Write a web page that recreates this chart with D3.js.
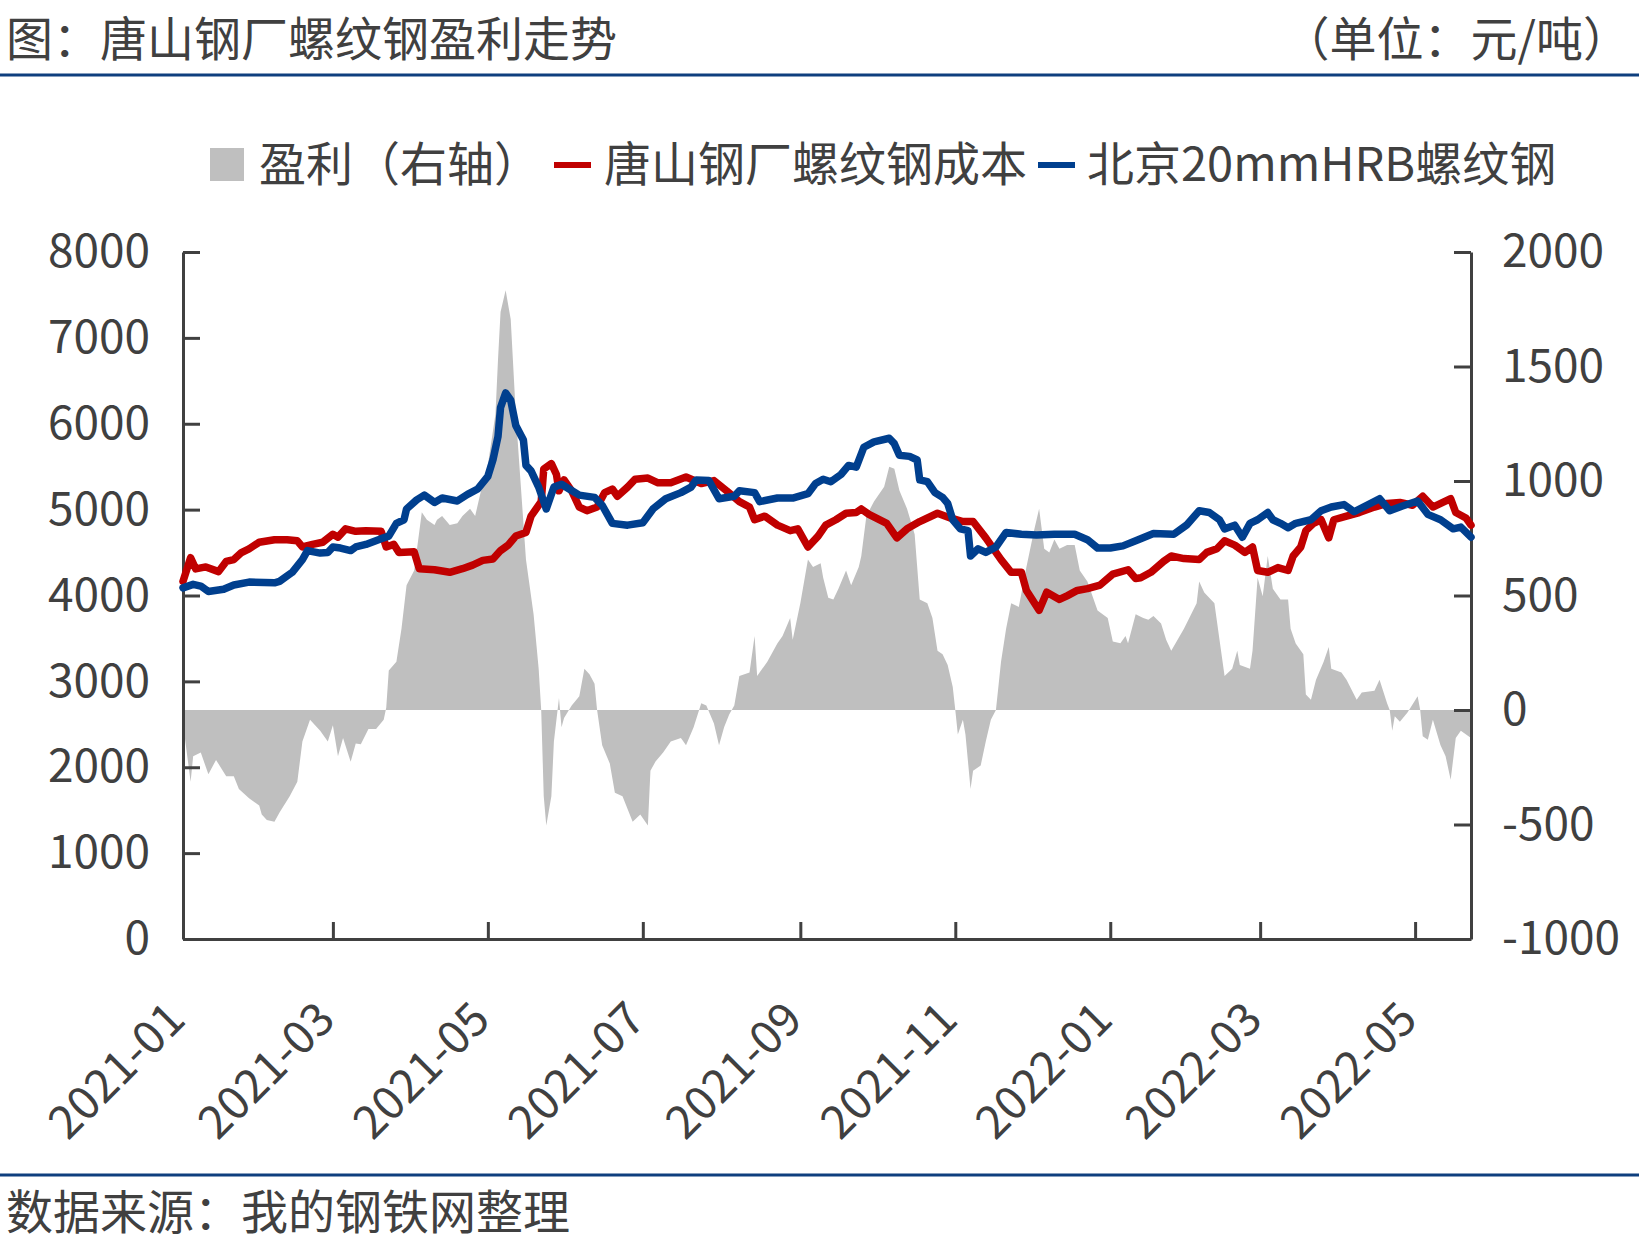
<!DOCTYPE html>
<html>
<head>
<meta charset="utf-8">
<title>唐山钢厂螺纹钢盈利走势</title>
<script src="https://cdn.jsdelivr.net/npm/d3@7"></script>
<style>
    html, body { margin: 0; padding: 0; background: #fff; }
    svg text { font-family: "Noto Sans CJK SC", "Noto Sans", sans-serif; }
</style>
</head>
<body>
<svg id="chart" width="1639" height="1251"></svg>
<script>
// 唐山钢厂螺纹钢成本 (left axis)
var costDates = ["2021-01-01","2021-01-04","2021-01-06","2021-01-10","2021-01-15","2021-01-18","2021-01-21","2021-01-24","2021-01-27","2021-01-31",
    "2021-02-06","2021-02-11","2021-02-15","2021-02-17","2021-02-21","2021-02-25","2021-03-01","2021-03-03","2021-03-06","2021-03-10",
    "2021-03-14","2021-03-20","2021-03-22","2021-03-25","2021-03-27","2021-04-02","2021-04-04","2021-04-10","2021-04-16","2021-04-21",
    "2021-04-25","2021-04-29","2021-05-03","2021-05-06","2021-05-09","2021-05-12","2021-05-16","2021-05-18","2021-05-22","2021-05-23",
    "2021-05-26","2021-05-28","2021-05-29","2021-05-31","2021-06-03","2021-06-06","2021-06-09","2021-06-13","2021-06-16","2021-06-19",
    "2021-06-21","2021-06-25","2021-06-28","2021-07-03","2021-07-07","2021-07-12","2021-07-18","2021-07-24","2021-07-29","2021-08-03",
    "2021-08-08","2021-08-12","2021-08-14","2021-08-18","2021-08-23","2021-08-28","2021-08-31","2021-09-04","2021-09-08","2021-09-11",
    "2021-09-15","2021-09-19","2021-09-23","2021-09-25","2021-09-28","2021-10-05","2021-10-09","2021-10-13","2021-10-18","2021-10-25",
    "2021-10-30","2021-11-04","2021-11-08","2021-11-13","2021-11-19","2021-11-23","2021-11-27","2021-11-29","2021-12-04","2021-12-07",
    "2021-12-12","2021-12-15","2021-12-19","2021-12-23","2021-12-28","2022-01-02","2022-01-08","2022-01-11","2022-01-13","2022-01-17",
    "2022-01-22","2022-01-25","2022-01-30","2022-02-05","2022-02-08","2022-02-12","2022-02-15","2022-02-19","2022-02-23","2022-02-26",
    "2022-02-28","2022-03-04","2022-03-08","2022-03-12","2022-03-14","2022-03-17","2022-03-19","2022-03-22","2022-03-25","2022-03-28",
    "2022-03-30","2022-04-04","2022-04-09","2022-04-15","2022-04-20","2022-04-25","2022-04-30","2022-05-04","2022-05-08","2022-05-15",
    "2022-05-17","2022-05-21","2022-05-23"];
var costValues = [4165,4440,4310,4333,4278,4397,4418,4500,4544,4620,
    4650,4650,4637,4565,4595,4620,4713,4680,4776,4747,
    4755,4747,4565,4595,4500,4510,4312,4300,4270,4312,
    4354,4409,4426,4523,4587,4692,4734,4924,5093,5473,
    5536,5409,5219,5346,5219,5030,4987,5030,5198,5240,
    5156,5262,5354,5367,5312,5312,5380,5304,5338,5219,
    5093,5030,4882,4924,4819,4755,4776,4565,4692,4819,
    4882,4958,4966,5008,4945,4840,4671,4776,4861,4958,
    4903,4861,4861,4671,4418,4270,4270,4059,3827,4038,
    3954,3996,4059,4080,4122,4249,4300,4198,4207,4270,
    4397,4460,4430,4418,4502,4544,4637,4587,4502,4565,
    4291,4270,4325,4291,4460,4565,4755,4840,4882,4671,
    4882,4924,4966,5030,5072,5084,5051,5156,5030,5127,
    4966,4903,4819];

// 北京20mmHRB螺纹钢 (left axis)
var priceDates = ["2021-01-01","2021-01-05","2021-01-08","2021-01-11","2021-01-17","2021-01-21","2021-01-27","2021-02-06","2021-02-08","2021-02-13",
    "2021-02-17","2021-02-19","2021-02-24","2021-02-27","2021-03-01","2021-03-04","2021-03-08","2021-03-10","2021-03-14","2021-03-20",
    "2021-03-23","2021-03-26","2021-03-29","2021-03-30","2021-04-03","2021-04-06","2021-04-10","2021-04-13","2021-04-19","2021-04-23",
    "2021-04-27","2021-05-01","2021-05-03","2021-05-05","2021-05-06","2021-05-08","2021-05-10","2021-05-12","2021-05-15","2021-05-16",
    "2021-05-18","2021-05-21","2021-05-24","2021-05-27","2021-05-30","2021-06-02","2021-06-06","2021-06-12","2021-06-15","2021-06-19",
    "2021-06-25","2021-07-01","2021-07-05","2021-07-10","2021-07-16","2021-07-20","2021-07-22","2021-07-27","2021-07-31","2021-08-06",
    "2021-08-08","2021-08-14","2021-08-16","2021-08-23","2021-08-29","2021-09-04","2021-09-07","2021-09-10","2021-09-13","2021-09-17",
    "2021-09-20","2021-09-23","2021-09-26","2021-09-30","2021-10-06","2021-10-08","2021-10-10","2021-10-14","2021-10-17","2021-10-18",
    "2021-10-21","2021-10-24","2021-10-27","2021-10-29","2021-10-31","2021-11-03","2021-11-06","2021-11-07","2021-11-10","2021-11-13",
    "2021-11-17","2021-11-21","2021-11-27","2021-12-03","2021-12-10","2021-12-18","2021-12-23","2021-12-27","2022-01-01","2022-01-06",
    "2022-01-12","2022-01-18","2022-01-26","2022-01-31","2022-02-05","2022-02-09","2022-02-13","2022-02-15","2022-02-19","2022-02-22",
    "2022-02-25","2022-02-28","2022-03-04","2022-03-06","2022-03-09","2022-03-12","2022-03-15","2022-03-21","2022-03-25","2022-03-29",
    "2022-04-03","2022-04-07","2022-04-12","2022-04-17","2022-04-21","2022-04-26","2022-05-02","2022-05-06","2022-05-11","2022-05-16",
    "2022-05-19","2022-05-23"];
var priceValues = [4089,4130,4110,4046,4072,4122,4156,4148,4165,4270,
    4418,4523,4494,4500,4565,4553,4523,4565,4595,4662,
    4692,4840,4882,5008,5114,5169,5084,5135,5101,5177,
    5240,5388,5578,5852,6190,6359,6274,5979,5810,5515,
    5451,5262,5008,5262,5295,5240,5169,5143,5051,4840,
    4819,4848,5008,5127,5198,5262,5346,5338,5127,5156,
    5219,5198,5093,5135,5135,5186,5304,5354,5325,5409,
    5515,5494,5726,5789,5831,5768,5633,5620,5578,5346,
    5325,5198,5143,5072,4882,4776,4755,4460,4544,4502,
    4565,4734,4713,4705,4713,4713,4650,4553,4553,4578,
    4650,4722,4713,4819,4987,4966,4882,4776,4819,4679,
    4840,4882,4966,4882,4840,4789,4840,4882,4987,5030,
    5059,4975,5051,5127,4987,5042,5101,4945,4882,4776,
    4797,4679];

// 盈利 (right axis)
var profitDates = ["2021-01-01","2021-01-04","2021-01-05","2021-01-08","2021-01-11","2021-01-14","2021-01-18","2021-01-21","2021-01-23","2021-01-27",
    "2021-01-31","2021-02-01","2021-02-03","2021-02-06","2021-02-08","2021-02-12","2021-02-15","2021-02-17","2021-02-20","2021-02-24",
    "2021-02-27","2021-03-01","2021-03-03","2021-03-05","2021-03-08","2021-03-10","2021-03-12","2021-03-15","2021-03-18","2021-03-21",
    "2021-03-22","2021-03-23","2021-03-26","2021-03-28","2021-03-30","2021-04-02","2021-04-05","2021-04-07","2021-04-10","2021-04-11",
    "2021-04-13","2021-04-16","2021-04-19","2021-04-21","2021-04-24","2021-04-26","2021-04-28","2021-05-01","2021-05-04","2021-05-05",
    "2021-05-06","2021-05-08","2021-05-10","2021-05-12","2021-05-14","2021-05-16","2021-05-19","2021-05-21","2021-05-22","2021-05-23",
    "2021-05-24","2021-05-26","2021-05-27","2021-05-29","2021-05-30","2021-05-31","2021-06-03","2021-06-06","2021-06-08","2021-06-10",
    "2021-06-12","2021-06-13","2021-06-15","2021-06-18","2021-06-20","2021-06-23","2021-06-27","2021-06-30","2021-07-03","2021-07-04",
    "2021-07-06","2021-07-09","2021-07-12","2021-07-16","2021-07-18","2021-07-21","2021-07-24","2021-07-26","2021-07-29","2021-07-31",
    "2021-08-02","2021-08-04","2021-08-06","2021-08-08","2021-08-12","2021-08-14","2021-08-15","2021-08-19","2021-08-23","2021-08-25",
    "2021-08-28","2021-08-29","2021-09-01","2021-09-04","2021-09-06","2021-09-09","2021-09-10","2021-09-12","2021-09-14","2021-09-16",
    "2021-09-19","2021-09-21","2021-09-24","2021-09-25","2021-09-27","2021-09-30","2021-10-04","2021-10-06","2021-10-08","2021-10-10",
    "2021-10-13","2021-10-16","2021-10-18","2021-10-21","2021-10-23","2021-10-25","2021-10-27","2021-10-29","2021-10-31","2021-11-01",
    "2021-11-02","2021-11-04","2021-11-05","2021-11-07","2021-11-08","2021-11-11","2021-11-13","2021-11-15","2021-11-17","2021-11-19",
    "2021-11-21","2021-11-23","2021-11-26","2021-11-29","2021-12-02","2021-12-04","2021-12-06","2021-12-08","2021-12-10","2021-12-12",
    "2021-12-15","2021-12-18","2021-12-20","2021-12-23","2021-12-27","2021-12-31","2022-01-02","2022-01-05","2022-01-07","2022-01-08",
    "2022-01-11","2022-01-14","2022-01-16","2022-01-18","2022-01-21","2022-01-23","2022-01-25","2022-01-30","2022-02-04","2022-02-05",
    "2022-02-07","2022-02-11","2022-02-13","2022-02-15","2022-02-18","2022-02-20","2022-02-21","2022-02-25","2022-02-26","2022-02-28",
    "2022-03-02","2022-03-04","2022-03-06","2022-03-09","2022-03-12","2022-03-13","2022-03-15","2022-03-18","2022-03-19","2022-03-21",
    "2022-03-23","2022-03-26","2022-03-28","2022-03-29","2022-04-02","2022-04-04","2022-04-08","2022-04-10","2022-04-15","2022-04-17",
    "2022-04-20","2022-04-21","2022-04-22","2022-04-23","2022-04-25","2022-04-28","2022-05-02","2022-05-03","2022-05-04","2022-05-06",
    "2022-05-08","2022-05-11","2022-05-13","2022-05-15","2022-05-17","2022-05-19","2022-05-23"];
var profitValues = [-60,-313,-202,-186,-281,-218,-289,-289,-345,-385,
    -417,-456,-480,-488,-448,-377,-313,-138,-43,-91,
    -138,-67,-202,-122,-226,-146,-150,-83,-83,-43,
    10,172,211,355,545,609,863,831,808,831,
    847,808,816,847,879,847,943,1070,1293,1531,
    1738,1833,1706,1293,975,657,418,180,0,-377,
    -504,-377,-138,52,-75,-35,20,60,180,156,
    115,0,-154,-234,-361,-377,-488,-456,-504,-265,
    -225,-186,-138,-122,-154,-75,29,20,-59,-154,
    -75,-20,20,148,164,323,148,211,291,323,
    402,307,466,657,625,641,577,490,482,529,
    609,545,625,672,847,911,975,1062,1054,959,
    879,768,482,466,402,259,243,196,100,0,
    -107,-43,-107,-345,-265,-242,-138,-43,0,211,
    355,466,450,625,784,879,704,688,744,704,
    720,720,609,561,434,402,299,291,323,291,
    418,402,394,410,378,307,259,355,466,561,
    513,466,307,148,180,259,196,180,259,577,
    497,672,529,482,482,355,290,243,68,45,
    132,211,275,180,164,132,45,76,84,132,
    28,0,-91,-27,-51,-11,60,0,-115,-130,
    -43,-154,-202,-305,-122,-91,-122];

var leftTicks = [0, 1000, 2000, 3000, 4000, 5000, 6000, 7000, 8000];
var rightTicks = [-1000, -500, 0, 500, 1000, 1500, 2000];
var monthTicks = ["2021-01-01","2021-03-01","2021-05-01","2021-07-01","2021-09-01","2021-11-01","2022-01-01","2022-03-01","2022-05-01"];
var xDomain = ["2021-01-01", "2022-05-23"];

(function () {
    "use strict";

    var INK = "#404040",
        RED = "#C00000",
        BLUE = "#003F8E",
        GREY = "#BFBFBF",
        FONT = "\"Noto Sans CJK SC\", \"Noto Sans\", sans-serif";

    var plot = { left: 183, right: 1471, top: 252, bottom: 939 };
    var parse = d3.timeParse("%Y-%m-%d");

    function zip(dates, values) {
        return dates.map(function (d, i) {
            return { date: parse(d), value: values[i] };
        });
    }

    // plain integers with an ascii hyphen, the way the source chart prints them
    function plain(v) {
        return String(v);
    }

    var cost = zip(costDates, costValues),
        price = zip(priceDates, priceValues),
        profit = zip(profitDates, profitValues);

    var x = d3.scaleTime()
        .domain(xDomain.map(parse))
        .range([plot.left, plot.right]);
    var yLeft = d3.scaleLinear().domain([0, 8000]).range([plot.bottom, plot.top]);
    var yRight = d3.scaleLinear().domain([-1000, 2000]).range([plot.bottom, plot.top]);

    var $svg = d3.select("#chart");

    // header
    $svg.append("text")
        .attr("x", 6).attr("y", 56)
        .attr("font-size", 47).attr("fill", INK)
        .text("图：唐山钢厂螺纹钢盈利走势");
    $svg.append("text")
        .attr("x", 1630).attr("y", 56)
        .attr("text-anchor", "end")
        .attr("font-size", 47).attr("fill", INK)
        .text("（单位：元/吨）");
    $svg.append("line")
        .attr("x1", 0).attr("x2", 1639)
        .attr("y1", 75).attr("y2", 75)
        .attr("stroke", "#0E3F7E").attr("stroke-width", 3);

    // footer
    $svg.append("line")
        .attr("x1", 0).attr("x2", 1639)
        .attr("y1", 1175).attr("y2", 1175)
        .attr("stroke", "#0E3F7E").attr("stroke-width", 3);
    $svg.append("text")
        .attr("x", 6).attr("y", 1229)
        .attr("font-size", 47).attr("fill", INK)
        .text("数据来源：我的钢铁网整理");

    // legend
    var $legend = $svg.append("g").attr("class", "legend");
    $legend.append("rect")
        .attr("x", 210).attr("y", 148)
        .attr("width", 34).attr("height", 33)
        .attr("fill", GREY);
    $legend.append("line")
        .attr("x1", 554).attr("x2", 591).attr("y1", 165).attr("y2", 165)
        .attr("stroke", RED).attr("stroke-width", 6);
    $legend.append("line")
        .attr("x1", 1038).attr("x2", 1075).attr("y1", 165).attr("y2", 165)
        .attr("stroke", BLUE).attr("stroke-width", 6);
    $legend.selectAll("text")
        .data([
            { x: 259, label: "盈利（右轴）" },
            { x: 604, label: "唐山钢厂螺纹钢成本" },
            { x: 1087, label: "北京20mmHRB螺纹钢" }
        ])
        .enter()
        .append("text")
        .attr("x", function (d) { return d.x; })
        .attr("y", 181)
        .attr("font-size", 47)
        .attr("fill", INK)
        .text(function (d) { return d.label; });

    // profit area (right axis)
    var area = d3.area()
        .x(function (d) { return x(d.date); })
        .y0(yRight(0))
        .y1(function (d) { return yRight(d.value); });
    $svg.append("path")
        .datum(profit)
        .attr("fill", GREY)
        .attr("d", area);

    // axes
    function styleAxis($g) {
        $g.attr("font-family", FONT).attr("font-size", 46);
        $g.selectAll(".domain").attr("stroke", INK).attr("stroke-width", 3);
        $g.selectAll(".tick line").attr("stroke", INK).attr("stroke-width", 3);
        $g.selectAll(".tick text").attr("fill", INK);
    }

    var $left = $svg.append("g")
        .attr("transform", "translate(" + plot.left + ",0)")
        .call(d3.axisLeft(yLeft).tickValues(leftTicks).tickFormat(plain)
            .tickSizeInner(-17).tickSizeOuter(0).tickPadding(33));
    styleAxis($left);

    var $right = $svg.append("g")
        .attr("transform", "translate(" + plot.right + ",0)")
        .call(d3.axisRight(yRight).tickValues(rightTicks).tickFormat(plain)
            .tickSizeInner(-17).tickSizeOuter(0).tickPadding(31));
    styleAxis($right);

    var $bottom = $svg.append("g")
        .attr("transform", "translate(0," + plot.bottom + ")")
        .call(d3.axisBottom(x).tickValues(monthTicks.map(parse))
            .tickSizeInner(-17).tickSizeOuter(0)
            .tickFormat(d3.timeFormat("%Y-%m")));
    styleAxis($bottom);
    $bottom.selectAll(".tick text")
        .attr("x", 0).attr("y", 0).attr("dy", 0)
        .attr("text-anchor", "end")
        .attr("transform", "translate(4,83) rotate(-45)");

    // lines (left axis)
    var line = d3.line()
        .x(function (d) { return x(d.date); })
        .y(function (d) { return yLeft(d.value); });

    $svg.selectAll(".series")
        .data([{ key: "cost", color: RED, values: cost }, { key: "price", color: BLUE, values: price }])
        .enter()
        .append("path")
        .attr("class", function (d) { return "series " + d.key; })
        .attr("fill", "none")
        .attr("stroke", function (d) { return d.color; })
        .attr("stroke-width", 7.5)
        .attr("stroke-linejoin", "round")
        .attr("stroke-linecap", "round")
        .attr("d", function (d) { return line(d.values); });
}());
</script>
</body>
</html>
